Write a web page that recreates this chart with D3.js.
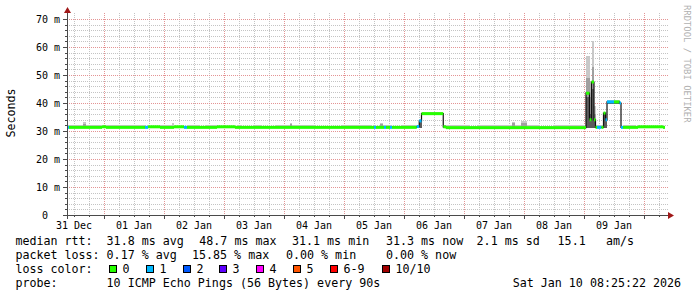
<!DOCTYPE html>
<html><head><meta charset="utf-8">
<script src="https://cdn.jsdelivr.net/npm/d3@7"></script>
<style>
html,body{margin:0;padding:0;background:#fff;}
svg{display:block;}
text{font-family:"DejaVu Sans Mono",monospace;white-space:pre;}
</style></head><body>
<svg id="c" width="697" height="297"></svg>
<script>
// ---- data (hours since 2025-12-31 00:00 UTC; each sample holds until the next) ----
const hours = [9.2,10.0,15.6,16.8,17.6,23.2,24.8,40.4,41.6,46.4,
  51.2,52.0,56.0,57.2,62.4,64.4,69.2,76.4,77.2,79.2,
  84.4,87.2,92.4,95.2,98.4,99.2,108.4,119.2,131.2,132.0,
  132.8,134.4,135.6,136.0,136.8,138.4,139.2,143.2,149.1,150.1,
  151.0,159.7,160.8,170.4,173.6,187.2,188.4,190.8,193.2,198.4,
  203.6,216.8,218.2,219.0,220.0,220.6,221.2,223.0,223.8,224.6,
  225.2,228.0,230.2,230.8,231.6,236.4,237.6,247.6];
const dataEndHour = 248.4;
const medianMs = [31.3,31.3,31.3,31.3,31.3,31.5,31.3,31.3,31.5,31.3,
  31.3,31.5,31.3,31.3,31.3,31.3,31.5,31.3,31.3,31.3,
  31.3,31.3,31.3,31.3,31.3,31.3,31.3,31.3,31.3,31.3,
  31.3,31.3,31.3,31.3,31.3,31.3,31.3,31.3,31.6,33.6,
  36.2,31.5,31.2,31.2,31.2,31.2,31.2,31.2,31.2,31.2,
  31.2,43.5,34.0,47.5,34.0,31.3,31.3,31.3,36.4,34.0,
  40.4,40.4,40.0,31.3,31.3,31.3,31.5,31.3];
const lossPings = [1,0,0,0,0,0,0,1,0,0,
  0,0,1,0,0,0,0,0,0,0,
  0,0,0,0,0,0,0,0,0,1,
  0,0,0,1,0,1,0,0,1,1,
  0,0,0,0,0,0,0,0,0,0,
  0,0,0,0,0,0,1,0,0,1,
  1,0,1,1,0,0,0,0];
const minMs = [31.0,31.0,31.0,31.0,31.0,31.0,31.0,31.0,31.0,31.0,
  31.0,31.0,31.0,31.0,31.0,31.0,31.0,31.0,31.0,31.0,
  31.0,31.0,31.0,31.0,31.0,31.0,31.0,31.0,31.0,31.0,
  31.0,31.0,31.0,31.0,31.0,31.0,31.0,31.0,31.0,31.2,
  35.6,31.0,30.9,30.9,30.9,30.9,30.9,30.9,30.9,30.9,
  30.9,31.0,31.0,31.0,31.0,31.0,31.0,31.0,31.2,31.2,
  39.5,39.5,39.5,31.0,31.0,31.0,31.0,31.0];
const darkMs = [31.3,31.3,31.3,31.3,31.3,31.5,31.3,31.3,31.5,31.3,
  31.3,31.5,31.3,31.3,31.3,31.3,31.5,31.3,31.3,31.3,
  31.3,31.3,31.3,31.3,31.3,31.3,31.3,31.3,31.3,31.3,
  31.3,31.3,31.3,31.3,31.3,31.3,31.3,31.3,31.6,33.6,
  36.2,31.5,31.2,31.2,31.2,31.2,31.2,31.2,31.2,31.2,
  31.2,42.0,36.0,45.0,34.0,31.3,31.3,31.3,36.4,34.0,
  40.4,40.4,40.0,31.3,31.3,31.3,31.5,31.3];
const upperMs = [31.3,31.3,32.6,31.3,31.3,31.5,31.3,31.3,31.5,31.3,
  31.3,31.5,31.3,31.3,31.3,31.3,31.5,31.3,31.3,31.3,
  31.3,31.3,31.3,31.3,32.4,31.3,31.3,31.3,31.3,31.3,
  31.3,32.4,31.3,31.3,31.3,31.3,31.3,31.3,31.6,33.6,
  36.2,31.5,31.2,31.2,31.2,32.8,31.2,33.0,31.2,31.2,
  31.2,49.0,42.0,53.0,36.0,31.3,31.3,31.3,36.4,34.0,
  40.4,40.4,40.0,31.3,31.3,31.3,31.5,31.3];
const maxMs = [32.1,32.1,33.1,32.1,32.0,31.8,32.1,31.9,31.9,32.1,
  33.0,31.9,31.9,32.1,31.8,32.2,31.9,31.8,32.2,31.8,
  32.2,31.8,32.1,32.2,32.8,32.2,31.8,32.2,31.8,31.8,
  31.8,32.9,32.2,32.2,32.2,32.0,31.8,32.2,32.0,34.2,
  36.7,32.0,32.1,31.8,32.2,33.3,32.2,33.7,32.0,31.8,
  32.2,56.8,48.0,62.0,39.0,32.1,32.0,32.0,36.9,34.5,
  40.9,40.9,40.5,31.9,32.2,31.8,31.9,31.8];

const yTicks = [0,10,20,30,40,50,60,70];
const yTickLabels = ["0","10 m","20 m","30 m","40 m","50 m","60 m","70 m"];
const xTickLabels = ["31 Dec","01 Jan","02 Jan","03 Jan","04 Jan","05 Jan","06 Jan","07 Jan","08 Jan","09 Jan"];
const lossLabels = ["0","1","2","3","4","5","6-9","10/10"];
const lossColors = ["#26ff00","#00b8ff","#0059ff","#5e00ff","#ff00ff","#ff5500","#ff0000","#a10000"];
const rttStats = ["median rtt:","31.8 ms avg","48.7 ms max","31.1 ms min","31.3 ms now","2.1 ms sd","15.1","am/s"];
const lossStats = ["packet loss:","0.17 % avg","15.85 % max","0.00 % min","0.00 % now"];
const probeText = ["probe:","10 ICMP Echo Pings (56 Bytes) every 90s"];
const dateText = "Sat Jan 10 08:25:22 2026";
const yTitle = "Seconds";
const watermark = "RRDTOOL / TOBI OETIKER";

(function(){
const svg = d3.select("#c");
const T0 = Date.UTC(2025,11,31);
const toDate = h => new Date(T0 + h*3600e3);
const x = d3.scaleUtc().domain([toDate(9.2), toDate(249.6)]).range([67,668]);
const y = d3.scaleLinear().domain([0,72]).range([215,13.4]);
const [d0,d1] = x.domain();
const pLeft = 67, pRight = 668, pTop = 13, pBottom = 215;

const grid = svg.append("g").attr("shape-rendering","crispEdges").attr("stroke-width",1).attr("stroke-dasharray","1,1");
const minorT = d3.utcHour.every(6).range(d0,d1).filter(t=>t.getUTCHours()!==0);
const majorT = d3.utcDay.range(d0,d1);
grid.selectAll(".vmin").data(minorT).join("line")
  .attr("x1",t=>Math.round(x(t))+0.5).attr("x2",t=>Math.round(x(t))+0.5)
  .attr("y1",pTop).attr("y2",pBottom).attr("stroke","#c4c4c4");
const minorY = d3.range(2,72,2).filter(v=>v%10!==0);
grid.selectAll(".hmin").data(minorY).join("line")
  .attr("y1",v=>Math.round(y(v))+0.5).attr("y2",v=>Math.round(y(v))+0.5)
  .attr("x1",pLeft).attr("x2",pRight).attr("stroke","#c4c4c4");
grid.selectAll(".vmaj").data(majorT).join("line")
  .attr("x1",t=>Math.round(x(t))+0.5).attr("x2",t=>Math.round(x(t))+0.5)
  .attr("y1",pTop).attr("y2",pBottom).attr("stroke","#e49494");
grid.selectAll(".hmaj").data(yTicks.filter(v=>v>0)).join("line")
  .attr("y1",v=>Math.round(y(v))+0.5).attr("y2",v=>Math.round(y(v))+0.5)
  .attr("x1",pLeft).attr("x2",pRight).attr("stroke","#e49494");

const samples = hours.map((h,i)=>({
  t0: toDate(h), t1: toDate(i<hours.length-1?hours[i+1]:dataEndHour),
  med: medianMs[i], loss: lossPings[i], mn: minMs[i], dk: darkMs[i], up: upperMs[i], mx: maxMs[i]
}));
const smoke = svg.append("g").attr("shape-rendering","crispEdges");
function band(key, color){
  smoke.append("g").selectAll("rect").data(samples.filter(d=>d[key]>d.mn)).join("rect")
    .attr("x",d=>x(d.t0)).attr("width",d=>x(d.t1)-x(d.t0))
    .attr("y",d=>y(d[key])).attr("height",d=>y(d.mn)-y(d[key]))
    .attr("fill",color);
}
band("mx","#c8c8c8");
band("up","#a0a0a0");
band("dk","#5c5c5c");

const pts = samples.map(d=>[d.t0,d.med]).concat([[toDate(dataEndHour), medianMs[medianMs.length-1]]]);
svg.append("path").attr("d", d3.line().x(p=>x(p[0])).y(p=>y(p[1])).curve(d3.curveStepAfter)(pts))
  .attr("fill","none").attr("stroke","#111").attr("stroke-width",1.2);

const bucket = l => l<=5 ? l : (l<10 ? 6 : 7);
svg.append("g").selectAll("rect").data(samples).join("rect")
  .attr("x",d=>x(d.t0)).attr("width",d=>x(d.t1)-x(d.t0))
  .attr("y",d=>y(d.med)-1.5).attr("height",3)
  .attr("fill",d=>lossColors[bucket(d.loss)]);

const axisColor = "#4a4a4a", arrowColor = "#a01818";
const ax = svg.append("g").attr("shape-rendering","crispEdges").attr("stroke",axisColor);
ax.selectAll(".ytm").data(yTicks).join("line")
  .attr("x1",63).attr("x2",67).attr("y1",v=>Math.round(y(v))+0.5).attr("y2",v=>Math.round(y(v))+0.5);
ax.selectAll(".ytn").data(minorY).join("line")
  .attr("x1",65).attr("x2",67).attr("y1",v=>Math.round(y(v))+0.5).attr("y2",v=>Math.round(y(v))+0.5);
ax.selectAll(".xtm").data(majorT).join("line")
  .attr("y1",215).attr("y2",219).attr("x1",t=>Math.round(x(t))+0.5).attr("x2",t=>Math.round(x(t))+0.5);
ax.selectAll(".xtn").data(minorT).join("line")
  .attr("y1",215).attr("y2",217).attr("x1",t=>Math.round(x(t))+0.5).attr("x2",t=>Math.round(x(t))+0.5);
ax.append("line").attr("x1",67.5).attr("x2",67.5).attr("y1",219).attr("y2",10);
ax.append("line").attr("x1",63).attr("x2",670).attr("y1",215.5).attr("y2",215.5);
svg.append("path").attr("d","M64,13L71,13L67.5,7Z").attr("fill",arrowColor);
svg.append("path").attr("d","M668,212L668,219L674,215.5Z").attr("fill",arrowColor);

svg.append("g").selectAll("text").data(yTicks).join("text")
  .attr("x",v=> v===0 ? 48 : 60).attr("y",v=>y(v)+3.6)
  .attr("text-anchor","end").attr("font-size","10px").attr("fill","#000")
  .text((v,i)=>yTickLabels[i]);
const days = d3.utcDay.range(d3.utcDay.floor(d0), d1);
svg.append("g").selectAll("text").data(days.map((d,i)=>({t:d3.utcHour.offset(d,12),lab:xTickLabels[i]})).filter(o=>o.lab && x(o.t)>=pLeft && x(o.t)<=pRight))
  .join("text").attr("x",o=>x(o.t)).attr("y",229).attr("text-anchor","middle")
  .attr("font-size","10px").attr("fill","#000").text(o=>o.lab);

svg.append("text").attr("transform","translate(14.5,113) rotate(-90)").attr("text-anchor","middle")
  .attr("font-size","11.67px").attr("fill","#000").text(yTitle);
svg.append("text").attr("transform","translate(684,5) rotate(90)")
  .attr("font-size","8.9px").attr("fill","#b0b0b0").text(watermark);

const fs = "11.67px";
const rttX = [15.4,106.6,199.3,292,386,476.6,557.6,606];
rttStats.forEach((s,i)=>svg.append("text").attr("x",rttX[i]).attr("y",245).attr("font-size",fs).text(s));
const lossX = [15.4,106.6,192,286,386];
lossStats.forEach((s,i)=>svg.append("text").attr("x",lossX[i]).attr("y",259).attr("font-size",fs).text(s));
svg.append("text").attr("x",15.4).attr("y",273).attr("font-size",fs).text("loss color:");
const boxX = [109,146,183,219,256,293,330,382];
lossLabels.forEach((s,i)=>{
  svg.append("rect").attr("x",boxX[i]+0.5).attr("y",265.5).attr("width",7).attr("height",7)
    .attr("fill",lossColors[i]).attr("stroke","#000").attr("stroke-width",1).attr("shape-rendering","crispEdges");
  svg.append("text").attr("x",boxX[i]+13.5).attr("y",273).attr("font-size",fs).text(s);
});
svg.append("text").attr("x",15.4).attr("y",287).attr("font-size",fs).text(probeText[0]);
svg.append("text").attr("x",106.6).attr("y",287).attr("font-size",fs).text(probeText[1]);
svg.append("text").attr("x",512.7).attr("y",287).attr("font-size",fs).text(dateText);
})();
</script>
</body></html>
